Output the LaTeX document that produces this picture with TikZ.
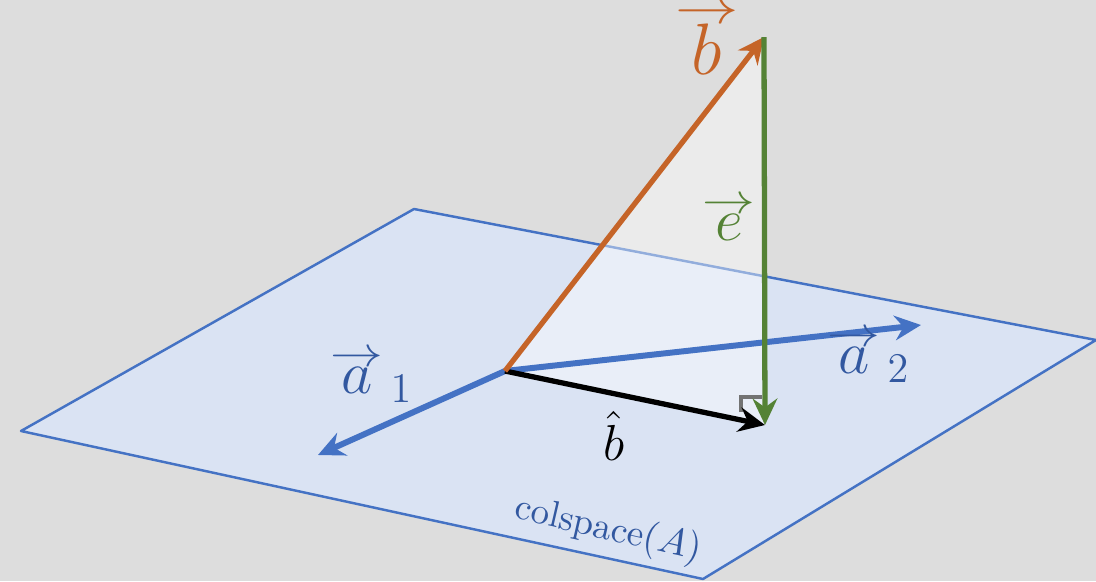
\documentclass[tikz,border=0pt]{standalone}
\usetikzlibrary{arrows.meta}
\definecolor{bggray}{RGB}{221,221,221}
\definecolor{planefill}{RGB}{218,227,243}
\definecolor{planeblue}{RGB}{68,114,196}
\definecolor{labelblue}{RGB}{50,88,160}
\definecolor{borange}{RGB}{197,100,40}
\definecolor{egreen}{RGB}{84,130,53}
% letter with a long thin arrow above it
\newcommand{\arrowvec}[1]{\vbox{\offinterlineskip\halign{\hfil##\hfil\cr
  \scalebox{1.25}[1]{$\scriptstyle\rightarrow$}\cr $#1$\cr}}}
\begin{document}
\begin{tikzpicture}[x=0.01cm, y=-0.01cm,
  vec/.style={line width=1.5pt, -{Stealth[length=7.5pt, width=7pt, inset=2.5pt]}},
  lbl/.style={inner sep=0pt, anchor=base}]
  \useasboundingbox[fill=bggray] (0,0) rectangle (1096,581);
  % Plane colspace(A)
  \filldraw[fill=planefill, draw=planeblue, line width=0.7pt, line join=round]
    (21,431) -- (414,209) -- (1096,340) -- (703,579) -- cycle;
  % Points:  O origin, B tip of b, P foot of the projection
  \coordinate (O) at (505,371);
  \coordinate (B) at (764,37);
  \coordinate (P) at (765,425);
  \coordinate (A1) at (318,455);
  \coordinate (A2) at (921,325);
  % Triangle O-B-P, light see-through
  \fill[white, opacity=0.42] (O) -- (B) -- (P) -- cycle;
  % Spanning vectors
  \draw[vec, planeblue, line width=1.7pt] (O) -- (A1);
  \draw[vec, planeblue, line width=1.7pt] (O) -- (A2);
  % Right angle mark
  \draw[black!55, line width=1.2pt] (741,412) -- (741,397) -- (762,397);
  % b, its projection and the error
  \draw[vec, black] (O) -- (P);
  \draw[vec, borange] (O) -- (B);
  \draw[vec, egreen] (B) -- (P);
  % Labels
  \node[lbl, text=borange, font=\fontsize{20}{24}\selectfont] (lb) at (707,74) {\arrowvec{b}};
  \node[lbl, text=egreen, font=\fontsize{18}{22}\selectfont] (le) at (729,240) {\arrowvec{e}};
  \node[lbl, text=labelblue, font=\fontsize{17}{20}\selectfont] (la1) at (372,393) {$\arrowvec{a}_{\,1}$};
  \node[lbl, text=labelblue, font=\fontsize{17}{20}\selectfont] (la2) at (869,373) {$\arrowvec{a}_{\,2}$};
  \node[lbl, font=\fontsize{15}{18}\selectfont] (lp) at (614,460) {$\hat{b}$};
  \node[lbl, anchor=center, text=labelblue, rotate=-13, font=\fontsize{10.5}{12}\selectfont] (lc) at (608,530) {colspace$(A)$};
\end{tikzpicture}
\end{document}
